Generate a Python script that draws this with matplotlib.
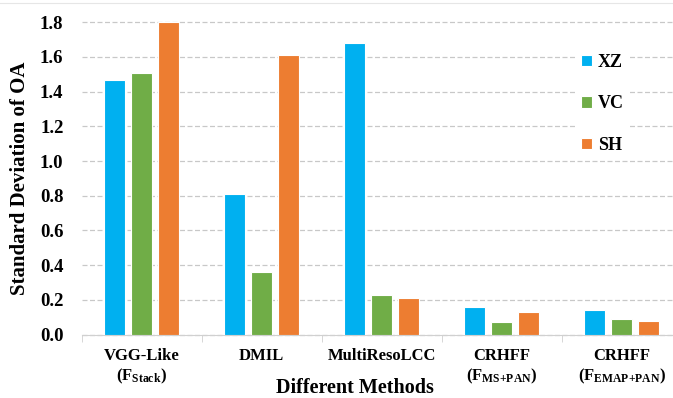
import numpy as np
import matplotlib.pyplot as plt
from matplotlib.ticker import FixedLocator

plt.rcParams['font.family'] = ['Liberation Serif', 'DejaVu Serif']
plt.rcParams['font.weight'] = 'bold'
plt.rcParams['axes.labelweight'] = 'bold'
plt.rcParams['mathtext.fontset'] = 'custom'
plt.rcParams['mathtext.rm'] = 'Liberation Serif:bold'
plt.rcParams['mathtext.it'] = 'Liberation Serif:bold'
plt.rcParams['mathtext.bf'] = 'Liberation Serif:bold'

methods = ['VGG-Like\n(F$_{\\rm Stack}$)', 'DMIL', 'MultiResoLCC',
           'CRHFF\n(F$_{\\rm MS{+}PAN}$)', 'CRHFF\n(F$_{\\rm EMAP{+}PAN}$)']
xz = [1.47, 0.81, 1.68, 0.16, 0.14]
vc = [1.51, 0.36, 0.23, 0.07, 0.09]
sh = [1.80, 1.61, 0.21, 0.13, 0.08]
series = [('XZ', xz, '#00B0F0'), ('VC', vc, '#70AD47'), ('SH', sh, '#ED7D31')]

fig = plt.figure(figsize=(6.73, 3.98), dpi=100)
ax = fig.add_axes([81.5 / 673, 63.5 / 398, 591.5 / 673, 312.2 / 398])

x = np.arange(len(methods))
w = 0.175
step = 0.225
for i, (name, vals, col) in enumerate(series):
    ax.bar(x + (i - 1) * step, vals, w, color=col, edgecolor='white',
           linewidth=0.8, label=name, zorder=3)

ax.set_xlim(-0.5, 4.5 - 8.5 / 120)
ax.set_ylim(0, 1.8)
yt = np.arange(0, 1.81, 0.2)
ax.set_yticks(yt)
ax.set_yticklabels([f'{v:.1f}' for v in yt])
ax.yaxis.grid(True, linestyle=(0, (4, 2)), color='#C8C8C8', linewidth=0.9, zorder=0)
for gl in ax.yaxis.get_gridlines():
    gl.set_clip_on(False)
ax.set_xticks(x)
ax.set_xticklabels(methods)
ax.xaxis.set_minor_locator(FixedLocator(np.arange(-0.5, 5, 1.0)))
ax.tick_params(axis='x', which='major', length=0, labelsize=12, pad=10)
ax.tick_params(axis='x', which='minor', length=5, color='#D0D0D0')
ax.tick_params(axis='y', length=0, labelsize=13.5, pad=13)

for s in ['top', 'right', 'left']:
    ax.spines[s].set_visible(False)
ax.spines['bottom'].set_color('#D0D0D0')

ax.set_ylabel('Standard Deviation of OA', fontsize=15, labelpad=7)
ax.set_xlabel('Different Methods', fontsize=14.5)
ax.xaxis.set_label_coords(0.462, -0.14)

# top border of the chart area
fig.add_artist(plt.Line2D([0, 1], [0.992, 0.992], color='#E6E6E6', linewidth=0.8))

leg = ax.legend(loc='upper left', bbox_to_anchor=(0.82, 0.945), frameon=True,
                facecolor='white', edgecolor='none', framealpha=1,
                fontsize=13, handlelength=0.6, handleheight=0.6,
                handletextpad=0.35, labelspacing=1.35, borderpad=0.3)
leg.set_zorder(5)

fig.savefig('out.png', dpi=100)
